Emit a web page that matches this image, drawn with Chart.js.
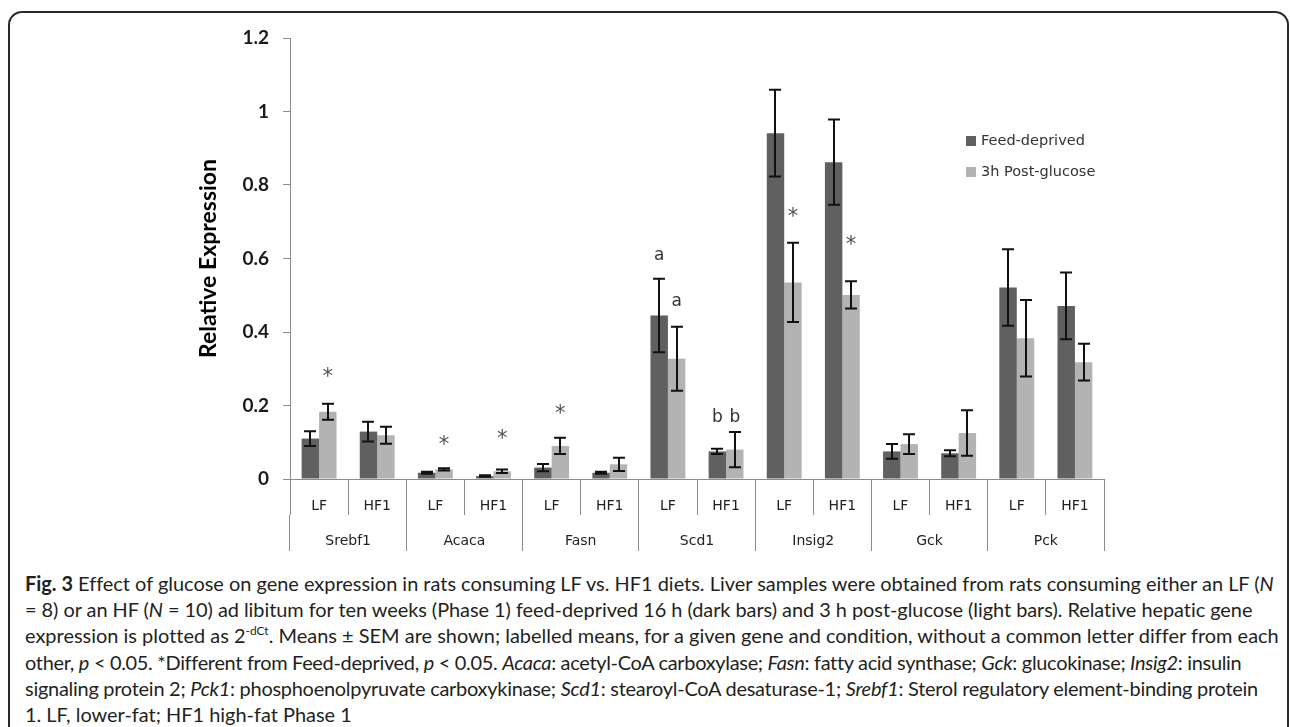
<!DOCTYPE html>
<html>
<head>
<meta charset="utf-8">
<script src="https://cdn.jsdelivr.net/npm/chart.js@4.4.1/dist/chart.umd.min.js"></script>
<style>
  html, body { margin:0; padding:0; background:#fff; width:1290px; height:727px; overflow:hidden; }
  #frame { position:absolute; left:8px; top:11px; width:1281px; height:800px; border:2px solid #2a2a2a; border-radius:14px; box-sizing:border-box; }
  #chart { position:absolute; left:0; top:0; }
  #caption { position:absolute; left:25px; top:570px; font-family:'Lato', sans-serif; color:#231f20; line-height:26.2px; white-space:nowrap; }
  #caption div { white-space:nowrap; }
  #caption span.ln { display:inline-block; }
  #caption sup { font-size:0.6em; vertical-align:0.65em; line-height:0; }
</style>
</head>
<body>
<div id="frame"></div>
<canvas id="chart" width="1290" height="560"></canvas>
<div id="caption">
  <div><span class="ln"><b>Fig. 3</b> Effect of glucose on gene expression in rats consuming LF vs. HF1 diets. Liver samples were obtained from rats consuming either an LF (<i>N</i></span></div>
  <div><span class="ln">= 8) or an HF (<i>N</i> = 10) ad libitum for ten weeks (Phase 1) feed-deprived 16 h (dark bars) and 3 h post-glucose (light bars). Relative hepatic gene</span></div>
  <div><span class="ln">expression is plotted as 2<sup>-dCt</sup>. Means ± SEM are shown; labelled means, for a given gene and condition, without a common letter differ from each</span></div>
  <div><span class="ln">other, <i>p</i> &lt; 0.05. *Different from Feed-deprived, <i>p</i> &lt; 0.05. <i>Acaca</i>: acetyl-CoA carboxylase; <i>Fasn</i>: fatty acid synthase; <i>Gck</i>: glucokinase; <i>Insig2</i>: insulin</span></div>
  <div><span class="ln">signaling protein 2; <i>Pck1</i>: phosphoenolpyruvate carboxykinase; <i>Scd1</i>: stearoyl-CoA desaturase-1; <i>Srebf1</i>: Sterol regulatory element-binding protein</span></div>
  <div><span class="ln">1. LF, lower-fat; HF1 high-fat Phase 1</span></div>
</div>
<script>
// ---------------- data ----------------
const categories = ['LF','HF1','LF','HF1','LF','HF1','LF','HF1','LF','HF1','LF','HF1','LF','HF1'];
const genes = ['Srebf1','Acaca','Fasn','Scd1','Insig2','Gck','Pck'];
const seriesNames = ['Feed-deprived','3h Post-glucose'];
const feedDeprived    = [0.110, 0.129, 0.017, 0.008, 0.031, 0.017, 0.445, 0.075, 0.941, 0.862, 0.075, 0.070, 0.521, 0.471];
const feedDeprivedSEM = [0.020, 0.027, 0.003, 0.002, 0.010, 0.003, 0.100, 0.007, 0.118, 0.116, 0.020, 0.008, 0.104, 0.091];
const postGlucose     = [0.183, 0.119, 0.026, 0.021, 0.090, 0.040, 0.327, 0.080, 0.535, 0.501, 0.095, 0.125, 0.383, 0.318];
const postGlucoseSEM  = [0.022, 0.023, 0.003, 0.005, 0.022, 0.018, 0.087, 0.048, 0.108, 0.037, 0.027, 0.062, 0.104, 0.050];
const yTicks = [0, 0.2, 0.4, 0.6, 0.8, 1, 1.2];
// significance marks: category index, series index, text, level (value units)
const markCategory = [0, 2, 3, 4, 6, 6, 7, 7, 8, 9];
const markSeries   = [1, 1, 1, 1, 0, 1, 0, 1, 1, 1];
const markText     = ['*','*','*','*','a','a','b','b','*','*'];
const markLevel    = [0.290, 0.106, 0.122, 0.190, 0.609, 0.485, 0.174, 0.174, 0.727, 0.650];

// ---------------- plugins ----------------
const errorBars = {
  id: 'errorBars',
  afterDatasetsDraw(chart) {
    const ctx = chart.ctx, y = chart.scales.y;
    ctx.save();
    ctx.strokeStyle = '#111';
    ctx.lineWidth = 2;
    chart.data.datasets.forEach((ds, di) => {
      const meta = chart.getDatasetMeta(di);
      meta.data.forEach((bar, i) => {
        const v = ds.data[i], e = ds.sem[i];
        const t = y.getPixelForValue(v + e), b = y.getPixelForValue(v - e);
        const x = Math.round(bar.x);
        ctx.beginPath();
        ctx.moveTo(x, t); ctx.lineTo(x, b);
        ctx.moveTo(x - 6, t); ctx.lineTo(x + 6, t);
        ctx.moveTo(x - 6, b); ctx.lineTo(x + 6, b);
        ctx.stroke();
      });
    });
    ctx.restore();
  }
};

const marks = {
  id: 'marks',
  afterDatasetsDraw(chart) {
    const ctx = chart.ctx, y = chart.scales.y;
    ctx.save();
    ctx.textAlign = 'center';
    ctx.textBaseline = 'alphabetic';
    markText.forEach((txt, k) => {
      const bar = chart.getDatasetMeta(markSeries[k]).data[markCategory[k]];
      const star = txt === '*';
      ctx.font = star ? '21px "DejaVu Sans"' : '17px "DejaVu Sans"';
      ctx.fillStyle = star ? '#505050' : '#333';
      const m = ctx.measureText(txt);
      const yc = y.getPixelForValue(markLevel[k]);
      const base = yc + (m.actualBoundingBoxAscent - m.actualBoundingBoxDescent) / 2;
      ctx.fillText(txt, bar.x, base);
    });
    ctx.restore();
  }
};

const boxLegend = {
  id: 'boxLegend',
  afterDraw(chart) {
    const ctx = chart.ctx;
    ctx.save();
    ctx.font = '14.5px "DejaVu Sans"';
    ctx.textBaseline = 'middle';
    ctx.textAlign = 'left';
    const rows = [141, 172];
    chart.data.datasets.forEach((ds, i) => {
      ctx.fillStyle = ds.backgroundColor;
      ctx.fillRect(966, rows[i] - 5, 10, 10);
      ctx.fillStyle = '#333';
      ctx.fillText(ds.label, 981, rows[i]);
    });
    ctx.restore();
  }
};

// ---------------- chart ----------------
const axisGray = '#8c8c8c';
new Chart(document.getElementById('chart'), {
  type: 'bar',
  data: {
    labels: categories,
    datasets: [
      { label: seriesNames[0], data: feedDeprived, sem: feedDeprivedSEM, backgroundColor: '#606060', xAxisID: 'x', yAxisID: 'y' },
      { label: seriesNames[1], data: postGlucose, sem: postGlucoseSEM, backgroundColor: '#b3b3b3', xAxisID: 'x', yAxisID: 'y' }
    ]
  },
  options: {
    responsive: false,
    animation: false,
    devicePixelRatio: 1,
    categoryPercentage: 0.6,
    barPercentage: 1.0,
    layout: { padding: { left: 190, top: 38, right: 186, bottom: 9 } },
    plugins: { legend: { display: false }, tooltip: { enabled: false } },
    scales: {
      x: {
        type: 'category',
        position: 'bottom',
        offset: true,
        grid: { display: true, drawOnChartArea: false, offset: true, tickLength: 36, color: axisGray, lineWidth: 1 },
        border: { display: true, color: axisGray, width: 1 },
        ticks: { autoSkip: false, maxRotation: 0, padding: -17, color: '#222', font: { family: 'DejaVu Sans', size: 14 } },
        afterFit(s) { s.height = 36; }
      },
      x2: {
        type: 'category',
        position: 'bottom',
        labels: genes,
        offset: true,
        grid: { display: true, drawOnChartArea: false, offset: true, tickLength: 36, color: axisGray, lineWidth: 1 },
        border: { display: false },
        ticks: { autoSkip: false, maxRotation: 0, padding: -18, color: '#222', font: { family: 'DejaVu Sans', size: 14 } },
        afterFit(s) { s.height = 36; }
      },
      y: {
        min: 0, max: 1.2,
        afterBuildTicks(s) { s.ticks = yTicks.map(v => ({ value: v })); },
        grid: { display: true, drawOnChartArea: false, tickLength: 7, color: axisGray },
        border: { display: true, color: axisGray, width: 1 },
        ticks: { padding: 14, color: '#1a1a1a', font: { family: 'Lato', size: 19, weight: 'bold' },
                 callback: v => String(Number(v.toFixed(1))) },
        title: { display: true, text: 'Relative Expression', color: '#000', padding: { top: 5, bottom: 0 },
                 font: { family: 'Lato', size: 23, weight: 'bold' } },
        afterFit(s) { s.width = 100; }
      }
    }
  },
  plugins: [errorBars, marks, boxLegend]
});

// fit caption: size from the longest line, then per-line spacing to the figure's line ends
(function fitCaption() {
  const cap = document.getElementById('caption');
  const lines = Array.from(cap.querySelectorAll('span.ln'));
  const ends = [1273, 1253, 1277, 1240, 1258, null];
  cap.style.fontSize = '20px';
  const w3 = lines[2].getBoundingClientRect().width;
  const size = 20 * 1252 / w3;
  cap.style.fontSize = size.toFixed(2) + 'px';
  lines.forEach((ln, i) => {
    if (ends[i] === null) return;
    const w = ln.getBoundingClientRect().width;
    const n = ln.textContent.length;
    ln.style.letterSpacing = (((ends[i] - 25) - w) / n).toFixed(3) + 'px';
  });
})();
</script>
</body>
</html>
